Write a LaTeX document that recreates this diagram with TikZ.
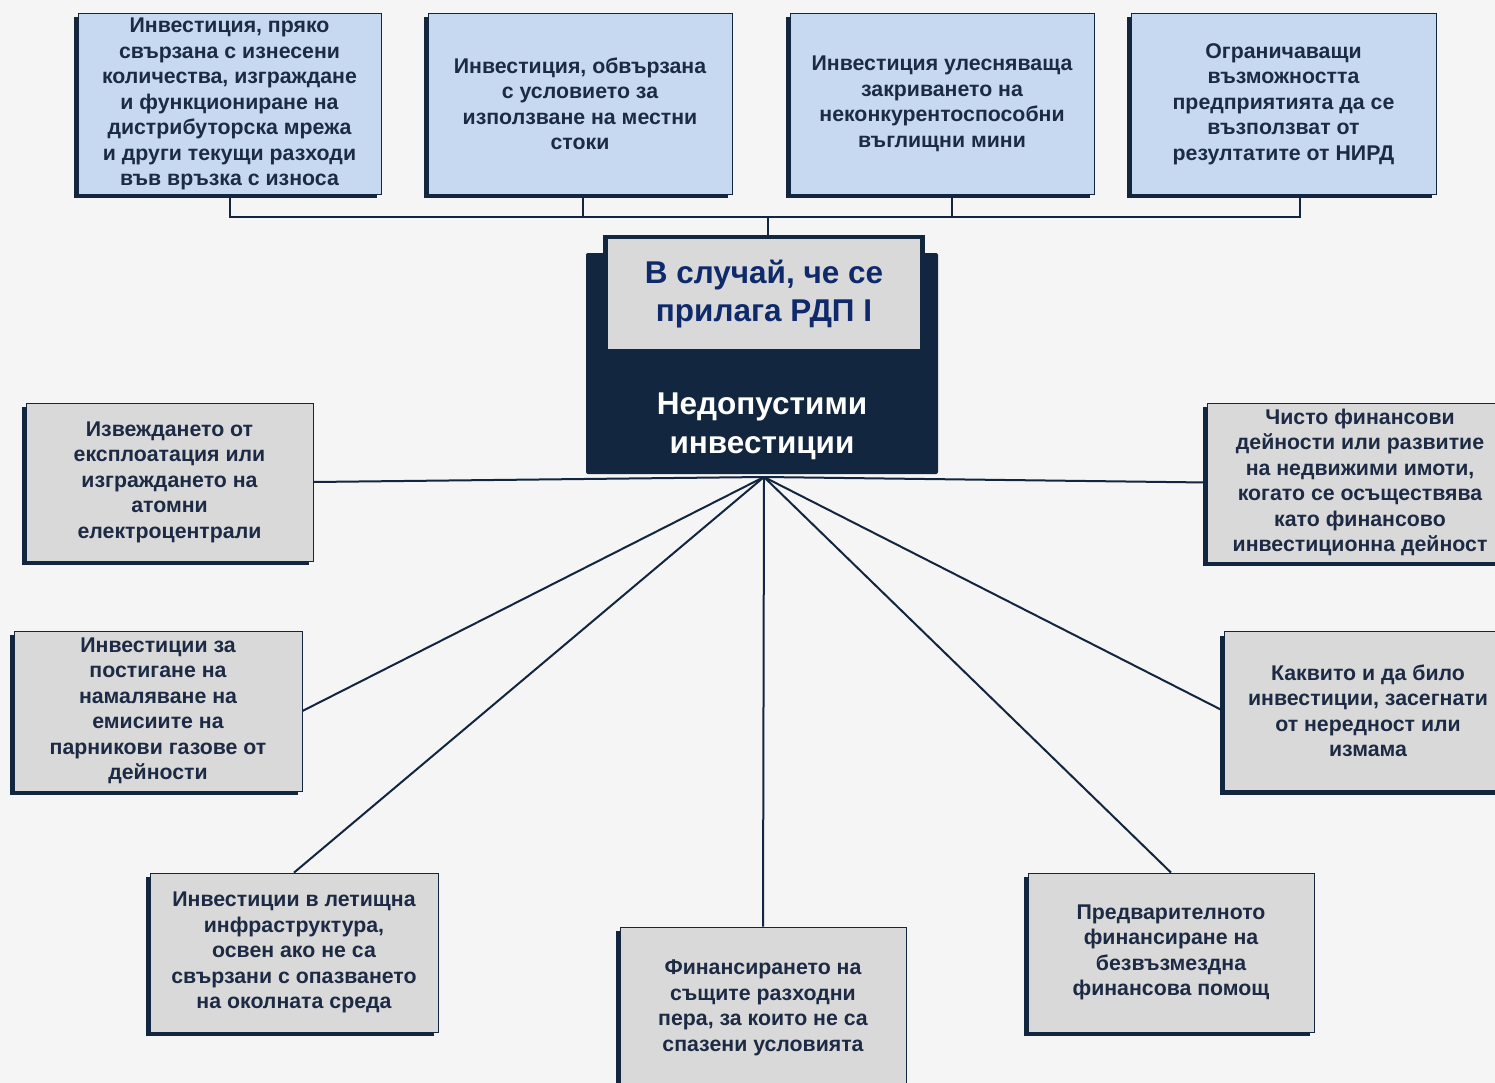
\documentclass[tikz,border=0pt]{standalone}
\usepackage{fontspec}
\setmainfont{Liberation Sans}
\usetikzlibrary{shadows}

\definecolor{pagebg}{HTML}{F5F5F5}
\definecolor{leafgray}{HTML}{D9D9D9}
\definecolor{leafblue}{HTML}{C6D9F1}
\definecolor{navy}{HTML}{12263F}
\definecolor{inktext}{HTML}{1C2A44}
\definecolor{titleblue}{HTML}{0E2A6B}

\tikzset{
  leaf/.style={draw=navy, line width=0.8pt, fill=leafgray, text=inktext, align=center,
    inner sep=0pt, minimum width=288pt, minimum height=159pt,
    font=\bfseries\fontsize{21.3}{25.5}\selectfont,
    drop shadow={shadow xshift=-4pt, shadow yshift=-4pt, fill=navy, opacity=1}},
  topleaf/.style={leaf, fill=leafblue, minimum width=303pt, minimum height=181pt},
  link/.style={draw=navy, line width=2pt},
}

\begin{document}
\begin{tikzpicture}[x=1pt, y=-1pt]
    \useasboundingbox [fill=pagebg] (0,0) rectangle (1495,1083);

    % centre block
    \node [fill=navy, rounded corners=2pt, minimum width=352pt, minimum height=221pt] (main) at (762,363.5) {};
    \node [draw=navy, line width=4.5pt, fill=leafgray, minimum width=317pt, minimum height=114pt, align=center,
      text=titleblue, font=\bfseries\fontsize{31.5}{38}\selectfont] (cond) at (764,294) {В случай, че се\\прилага РДП I};
    \node [text=white, align=center, font=\bfseries\fontsize{31.5}{39}\selectfont] (title) at (762,426) {Недопустими\\инвестиции};

    % top row
    \node [topleaf] (export) at (229.5,104) {Инвестиция, пряко\\свързана с изнесени\\количества, изграждане\\и функциониране на\\дистрибуторска мрежа\\и други текущи разходи\\във връзка с износа};
    \node [topleaf, minimum width=304pt] (local) at (580,104) {Инвестиция, обвързана\\с условието за\\използване на местни\\стоки};
    \node [topleaf, minimum width=304pt] (coal) at (942,104) {Инвестиция улесняваща\\закриването на\\неконкурентоспособни\\въглищни мини};
    \node [topleaf, minimum width=305pt] (rnd) at (1283.5,104) {Ограничаващи\\възможността\\предприятията да се\\възползват от\\резултатите от НИРД};

    % sides and bottom
    \node [leaf, minimum width=287pt, minimum height=158pt] (nuclear) at (169.5,482) {Извеждането от\\експлоатация или\\изграждането на\\атомни\\електроцентрали};
    \node [leaf, minimum height=160pt] (ghg) at (158,711) {Инвестиции за\\постигане на\\намаляване на\\емисиите на\\парникови газове от\\дейности};
    \node [leaf] (airport) at (294,952.5) {Инвестиции в летищна\\инфраструктура,\\освен ако не са\\свързани с опазването\\на околната среда};
    \node [leaf, minimum width=286pt, minimum height=162pt] (same) at (763,1008) {Финансирането на\\същите разходни\\пера, за които не са\\спазени условията};
    \node [leaf, minimum width=286pt] (prefin) at (1171,952.5) {Предварителното\\финансиране на\\безвъзмездна\\финансова помощ};
    \node [leaf] (fraud) at (1368,711) {Каквито и да било\\инвестиции, засегнати\\от нередност или\\измама};
    \node [leaf, minimum width=306pt] (finance) at (1360,482.5) {Чисто финансови\\дейности или развитие\\на недвижими имоти,\\когато се осъществява\\като финансово\\инвестиционна дейност};

    % connectors
    \coordinate (bus) at (768,217);
    \coordinate (hub) at (764,477);
    \draw [link] (export.south) |- (bus);
    \draw [link] ([xshift=3pt]local.south) |- (bus);
    \draw [link] ([xshift=10pt]coal.south) |- (bus);
    \draw [link] ([xshift=16pt]rnd.south) |- (bus);
    \draw [link] (bus) -- (bus |- cond.north);
    \draw [link] (nuclear.east) -- (hub);
    \draw [link] (ghg.east) -- (hub);
    \draw [link] (airport.north) -- (hub);
    \draw [link] (same.north) -- (hub);
    \draw [link] (prefin.north) -- (hub);
    \draw [link] (fraud.west) -- (hub);
    \draw [link] (finance.west) -- (hub);
\end{tikzpicture}
\end{document}
